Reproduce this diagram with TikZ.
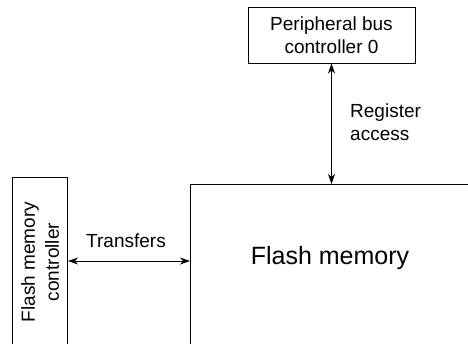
\documentclass[tikz,border=0pt]{standalone}
\usepackage{fontspec}
\setmainfont{Liberation Sans}
\usetikzlibrary{arrows.meta}
\begin{document}
\begin{tikzpicture}[x=1pt,y=1pt,
  box/.style={draw,line width=1pt,inner sep=0pt},
  lbl/.style={font=\fontsize{19}{23}\selectfont,align=left,inner sep=0pt},
  conn/.style={line width=1pt,{Stealth[length=10pt,width=7pt,inset=3pt]}-{Stealth[length=10pt,width=7pt,inset=3pt]}}]
\useasboundingbox (0,0) rectangle (468,-343);
% peripheral bus controller
\node[box,minimum width=167,minimum height=56,align=center,font=\fontsize{19}{23}\selectfont] (pbc) at (331.5,-35) {Peripheral bus\\controller 0};
% flash memory
\node[box,minimum width=300,minimum height=200,anchor=north west] (fm) at (190,-184) {};
\node[font=\fontsize{25}{30}\selectfont,inner sep=0pt] (fmt) at (330,-258) {Flash memory};
% flash memory controller (rotated)
\node[box,minimum width=55,minimum height=200,anchor=north west] (fmc) at (12,-177) {};
\node[rotate=90,align=center,font=\fontsize{19}{24}\selectfont,inner sep=0pt] (fmct) at (40,-262) {Flash memory\\controller};
% connectors
\draw[conn] (pbc.south) -- (pbc.south |- fm.north);
\coordinate (tr) at (0,-261);
\draw[conn] (fmc.east |- tr) -- (fm.west |- tr);
\node[lbl] (ra) at (350,-122) [anchor=west] {Register\\access};
\node[lbl] (trl) at (126,-241) {Transfers};
\end{tikzpicture}
\end{document}
